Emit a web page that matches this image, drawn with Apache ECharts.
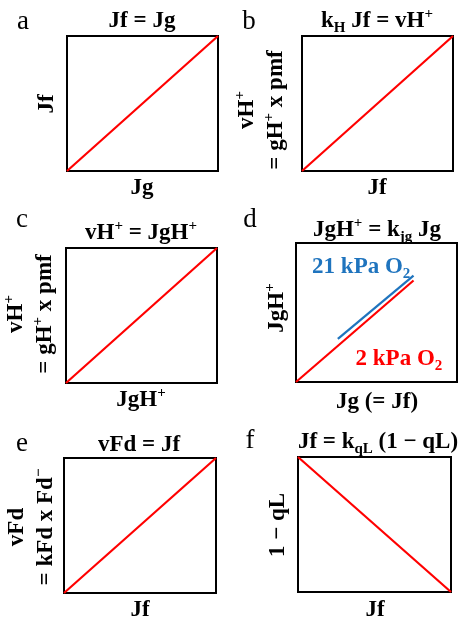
<!DOCTYPE html>
<html><head><meta charset="utf-8">
<script src="https://cdn.jsdelivr.net/npm/echarts@6/dist/echarts.min.js"></script>
<style>html,body{margin:0;padding:0;background:#fff}#c{width:461px;height:621px}</style>
</head><body><div id="c"></div>
<script>
// ---- data ----
const panelLetters = ['a', 'b', 'c', 'd', 'e', 'f'];
const panelTitles = [
  '{t|Jf = Jg}',
  '{t|k}{sub|H}{t| Jf = vH}{sup|+}',
  '{t|vH}{sup|+}{t| = JgH}{sup|+}',
  '{t|JgH}{sup|+}{t| = k}{sub|jg}{t| Jg}',
  '{t|vFd = Jf}',
  '{t|Jf = k}{sub|qL}{t| (1 − qL)}'
];
const xLabels = ['{t|Jg}', '{t|Jf}', '{t|JgH}{sup|+}', '{t|Jg (= Jf)}', '{t|Jf}', '{t|Jf}'];
const yLabels = [
  '{t|Jf}',
  '{t|vH}{sup|+}\n{t|= gH}{sup|+}{t| x pmf}',
  '{t|vH}{sup|+}\n{t|= gH}{sup|+}{t| x pmf}',
  '{t|JgH}{sup|+}',
  '{t|vFd}\n{t|= kFd x Fd}{sup|−}',
  '{t|1 − qL}'
];
const lineA = [[0, 0], [1, 1]];
const lineB = [[0, 0], [1, 1]];
const lineC = [[0, 0], [1, 1]];
const lineD2kPa = [[0, 0], [0.73, 0.73]];
const lineD21kPa = [[0.26, 0.31], [0.73, 0.765]];
const lineE = [[0, 0], [1, 1]];
const lineF = [[0, 1], [1, 0]];
const labelD21 = [[0.10, 0.83]];
const labelD2 = [[0.37, 0.165]];

// ---- layout ----
const grids = [
  {left: 67, top: 36, width: 151, height: 135},
  {left: 302, top: 36, width: 151, height: 135},
  {left: 66, top: 248, width: 151, height: 135},
  {left: 296, top: 243, width: 161, height: 139},
  {left: 64, top: 458, width: 152, height: 135},
  {left: 298, top: 457, width: 153, height: 135}
];
const titlePos = [[142, 21], [377, 21], [141, 233], [377, 230], [139, 445], [378, 442]];
const letterPos = [[23, 22], [249, 22], [22, 220], [250, 220], [22, 444], [250, 441]];
const xLabPos = [[142, 188], [377, 188], [141, 400], [377, 402], [140, 610], [375, 610]];
const yLabPos = [[47, 104], [262, 110], [31, 314], [277, 308], [32, 527], [278, 525]];

const FF = '"Liberation Serif","Times New Roman",serif';
const RED = '#ff0000', BLUE = '#1f74be';
function rich(color) {
  return {
    t: {fontFamily: FF, fontSize: 23, fontWeight: 'bold', color: color, fill: color, lineHeight: 29},
    sup: {fontFamily: FF, fontSize: 15, fontWeight: 'bold', color: color, fill: color, verticalAlign: 'top', lineHeight: 29},
    sub: {fontFamily: FF, fontSize: 15, fontWeight: 'bold', color: color, fill: color, verticalAlign: 'bottom', lineHeight: 29}
  };
}
function txt(p, text, rot, opts) {
  opts = opts || {};
  return {
    type: 'text', x: p[0], y: p[1], rotation: rot || 0,
    style: Object.assign({
      text: text, rich: rich('#000'), fill: '#000',
      fontFamily: FF, fontSize: 23, fontWeight: 'bold',
      align: 'center', verticalAlign: 'middle',
      textAlign: 'center', textVerticalAlign: 'middle'
    }, opts)
  };
}

const graphic = [];
for (let i = 0; i < 6; i++) {
  graphic.push(txt(titlePos[i], panelTitles[i]));
  graphic.push(txt(letterPos[i], panelLetters[i], 0, {fontWeight: 'normal', fontSize: 27}));
  graphic.push(txt(xLabPos[i], xLabels[i]));
  graphic.push(txt(yLabPos[i], yLabels[i], Math.PI / 2));
}

const xAxis = [], yAxis = [];
for (let i = 0; i < 6; i++) {
  const ax = {gridIndex: i, type: 'value', min: 0, max: 1, axisLine: {show: false}, axisTick: {show: false}, axisLabel: {show: false}, splitLine: {show: false}};
  xAxis.push(Object.assign({}, ax));
  yAxis.push(Object.assign({}, ax));
}
function line(i, data, color) {
  return {type: 'line', xAxisIndex: i, yAxisIndex: i, data: data, symbol: 'none', silent: true,
          lineStyle: {color: color, width: 2.2}, animation: false};
}
function lab(i, data, text, color) {
  return {type: 'scatter', xAxisIndex: i, yAxisIndex: i, data: data, symbolSize: 0, silent: true, animation: false,
          itemStyle: {opacity: 1, color: color},
          label: {show: true, position: 'right', distance: 0, opacity: 1, formatter: text, rich: rich(color), color: color}};
}

const chart = echarts.init(document.getElementById('c'), null, {renderer: 'canvas'});
chart.setOption({
  animation: false,
  backgroundColor: '#fff',
  grid: grids.map(g => Object.assign({show: true, borderColor: '#000', borderWidth: 2, backgroundColor: 'transparent'}, g)),
  xAxis: xAxis,
  yAxis: yAxis,
  series: [
    line(0, lineA, RED),
    line(1, lineB, RED),
    line(2, lineC, RED),
    line(3, lineD2kPa, RED),
    line(3, lineD21kPa, BLUE),
    line(4, lineE, RED),
    line(5, lineF, RED),
    lab(3, labelD21, '{t|21 kPa O}{sub|2}', BLUE),
    lab(3, labelD2, '{t|2 kPa O}{sub|2}', RED)
  ],
  graphic: graphic
});
</script></body></html>
